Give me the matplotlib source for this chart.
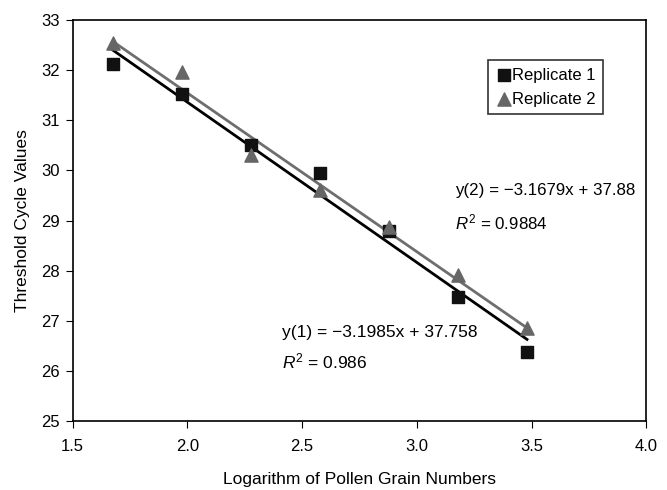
import numpy as np
import matplotlib
matplotlib.use("Agg")
import matplotlib.pyplot as plt

plt.rcParams['font.family'] = ['Liberation Sans', 'DejaVu Sans']
plt.rcParams['mathtext.fontset'] = 'custom'
plt.rcParams['mathtext.rm'] = 'Liberation Sans'
plt.rcParams['mathtext.it'] = 'Liberation Sans:italic'

# log10 of pollen grain numbers
log_pollen = [1.674, 1.975, 2.276, 2.577, 2.878, 3.179, 3.480]
rep1_ct = [32.13, 31.52, 30.50, 29.95, 28.80, 27.48, 26.38]
rep2_ct = [32.55, 31.97, 30.30, 29.60, 28.88, 27.92, 26.85]

# trendline coefficients (slope, intercept) from the equations on the chart
fit1 = (-3.1985, 37.758)
fit2 = (-3.1679, 37.88)

fig = plt.figure(figsize=(6.67, 4.9), dpi=100)
ax = fig.add_axes([0.109, 0.141, 0.86, 0.818])

x = np.array(log_pollen)
ax.plot(x, fit1[0] * x + fit1[1], color='black', lw=2, zorder=2)
ax.plot(x, fit2[0] * x + fit2[1], color='#6e6e6e', lw=2, zorder=2)

ax.scatter(log_pollen, rep1_ct, marker='s', s=80, color='#111111', label='Replicate 1', zorder=3)
ax.scatter(log_pollen, rep2_ct, marker='^', s=90, color='#666666', label='Replicate 2', zorder=3)

ax.set_xlim(1.5, 4.0)
ax.set_ylim(25, 33)
ax.set_xticks(np.arange(1.5, 4.01, 0.5))
ax.set_xticklabels(['%.1f' % v for v in np.arange(1.5, 4.01, 0.5)])
ax.set_yticks(range(25, 34))
ax.tick_params(direction='out', length=5, labelsize=12)
ax.tick_params(axis='x', pad=8)
ax.tick_params(axis='y', pad=4)

ax.set_xlabel('Logarithm of Pollen Grain Numbers', fontsize=12.5, labelpad=13)
ax.set_ylabel('Threshold Cycle Values', fontsize=12.5, labelpad=8)

ax.text(3.165, 29.6, 'y(2) = \u22123.1679x + 37.88', fontsize=12.2, va='center')
ax.text(3.165, 28.97, '$\\mathit{R}^2$ = 0.9884', fontsize=12.2, va='center')
ax.text(2.41, 26.77, 'y(1) = \u22123.1985x + 37.758', fontsize=12.5, va='center')
ax.text(2.41, 26.19, '$\\mathit{R}^2$ = 0.986', fontsize=12.5, va='center')

leg = ax.legend(loc='upper right', bbox_to_anchor=(0.925, 0.90), fontsize=12,
                frameon=True, fancybox=False, edgecolor='black',
                handletextpad=0.0, handlelength=1.0, borderpad=0.45, labelspacing=0.55,
                borderaxespad=0.0)
leg.get_frame().set_linewidth(1.2)

for s in ax.spines.values():
    s.set_linewidth(1.2)

fig.savefig('out.png', dpi=100)
